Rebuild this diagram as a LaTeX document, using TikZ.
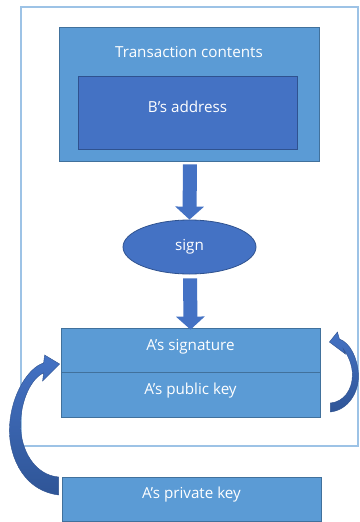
\documentclass[tikz,border=0pt]{standalone}
\usepackage{fontspec}
\setmainfont{Open Sans}
\usetikzlibrary{shapes.geometric,arrows.meta,calc}
\definecolor{frameblue}{HTML}{9DC3E6}
\definecolor{boxblue}{HTML}{5B9BD5}
\definecolor{boxedge}{HTML}{41719C}
\definecolor{deepblue}{HTML}{4472C4}
\definecolor{deepedge}{HTML}{2F528F}
\definecolor{tailblue}{HTML}{2F5597}

\begin{document}
\begin{tikzpicture}[x=1pt,y=-1pt,
  box/.style={draw=boxedge, fill=boxblue, line width=0.8pt, inner sep=0pt},
  innerbox/.style={draw=deepedge, fill=deepblue, line width=0.8pt, inner sep=0pt},
  txt/.style={text=white, font=\fontsize{15.2}{18}\selectfont, inner sep=0pt},
  blockarrow/.style={deepblue, line width=14pt, -{Triangle[width=28pt,length=13pt]}},
  curvearrow/.style={draw=deepedge, line width=0.4pt, top color=deepblue, bottom color=tailblue}
]
  \useasboundingbox (0,0) rectangle (359,522);

  % === Signed transaction ===
  \draw[frameblue, line width=1.2pt, fill=white] (21,7) rectangle (358,446);

  % Transaction contents with the payee address inside
  \node[box, minimum width=260pt, minimum height=134pt] (tx) at (189,94) {};
  \node[txt] (txlabel) at (189,52) {Transaction contents};
  \node[innerbox, minimum width=219pt, minimum height=73pt] (addr) at (187.5,112.5) {};
  \node[txt] (addrlabel) at (187.5,107) {B’s address};

  % Signing step
  \node[ellipse, innerbox, minimum width=133pt, minimum height=54pt] (sign) at (189.5,247) {};
  \node[txt] (signlabel) at (189.5,247) {sign};

  % Signature and public key
  \node[box, minimum width=259pt, minimum height=44pt] (sig) at (190.5,350) {};
  \node[txt] (siglabel) at (190.5,347) {A’s signature};
  \node[box, minimum width=259pt, minimum height=45pt] (pub) at (190.5,394.5) {};
  \node[txt] (publabel) at (190.5,391) {A’s public key};

  % Private key, kept outside
  \node[box, minimum width=259pt, minimum height=44pt] (priv) at (191.5,499) {};
  \node[txt] (privlabel) at (191.5,495) {A’s private key};

  % Straight arrows
  \draw[blockarrow, shorten <=3pt] ([xshift=1pt]tx.south) -- (sign.north);
  \draw[blockarrow, shorten <=4pt, shorten >=-2pt] ([xshift=0.5pt]sign.south) -- (sig.north);

  % Curved arrow: private key into the signature
  \coordinate (ltip) at ($(sig.west)+(-1,14)$);
  \path[curvearrow] ($(priv.west)+(-3,-4)$)
    .. controls +(-39,-5) and +(-2,25) .. ($(priv.west)+(-52,-74)$)
    .. controls +(2,-30) and +(-16,5) .. ($(ltip)+(-16,-1)$)
    -- ($(ltip)+(-15,-9)$) -- (ltip) -- ($(ltip)+(-17,17)$) -- ($(ltip)+(-16,9)$)
    .. controls +(-12,5) and +(0,-25) .. ($(priv.west)+(-41,-74)$)
    .. controls +(0,25) and +(-24,-2) .. ($(priv.west)+(-3,-22)$)
    -- cycle;

  % Curved arrow: public key back to the signature
  \coordinate (rtip) at ($(sig.east)+(9,-8)$);
  \path[curvearrow] ($(pub.east)+(10,17.5)$)
    .. controls +(18,-2) and +(1,18) .. ($(pub.east)+(38,-20.5)$)
    .. controls +(-1,-16) and +(11,4) .. ($(rtip)+(10,-3)$)
    -- ($(rtip)+(8,-10)$) -- (rtip) -- ($(rtip)+(16,12)$) -- ($(rtip)+(14,7)$)
    .. controls +(5,7) and +(0,-10) .. ($(pub.east)+(32,-19.5)$)
    .. controls +(0,15) and +(13,-1) .. ($(pub.east)+(10,8.5)$)
    -- cycle;

\end{tikzpicture}
\end{document}
